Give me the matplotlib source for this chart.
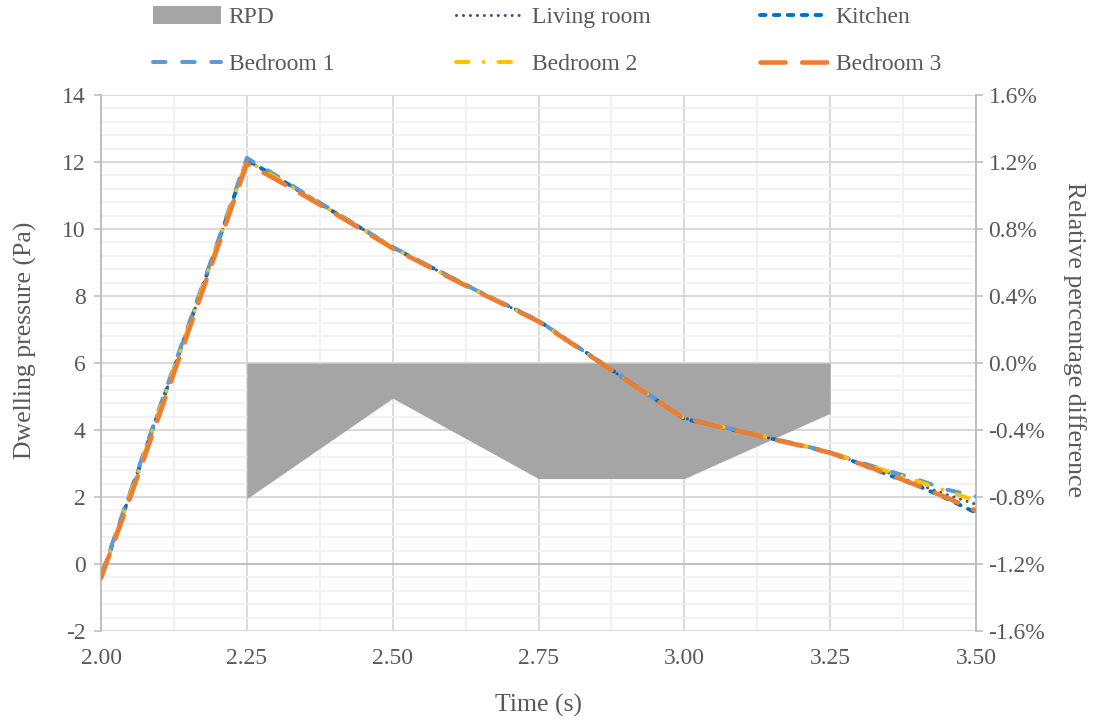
import matplotlib
matplotlib.use("Agg")
import matplotlib.pyplot as plt
from matplotlib.patches import Patch
from matplotlib.ticker import MultipleLocator, FuncFormatter

# ---------------- data ----------------
time_s = [2.00, 2.05, 2.10, 2.15, 2.20, 2.25, 2.30, 2.35, 2.40, 2.45, 2.50,
          2.55, 2.60, 2.65, 2.70, 2.75, 2.80, 2.85, 2.90, 2.95, 3.00,
          3.05, 3.10, 3.15, 3.20, 3.25, 3.30, 3.35, 3.40, 3.45, 3.50]

living_room = [-0.40, 2.09, 4.58, 7.07, 9.56, 12.05, 11.55, 11.02, 10.50, 9.98, 9.45,
               9.00, 8.55, 8.10, 7.68, 7.25, 6.67, 6.09, 5.50, 4.92, 4.35,
               4.15, 3.95, 3.74, 3.54, 3.33, 3.02, 2.72, 2.38, 2.07, 1.78]
kitchen = [-0.40, 2.10, 4.60, 7.08, 9.57, 12.06, 11.56, 11.03, 10.50, 9.98, 9.45,
           9.00, 8.56, 8.11, 7.69, 7.26, 6.68, 6.10, 5.50, 4.92, 4.33,
           4.14, 3.94, 3.74, 3.54, 3.33, 3.00, 2.66, 2.34, 1.95, 1.53]
bedroom_1 = [-0.35, 2.15, 4.65, 7.14, 9.62, 12.12, 11.60, 11.05, 10.52, 9.99, 9.46,
             9.01, 8.56, 8.11, 7.69, 7.26, 6.68, 6.10, 5.51, 4.93, 4.36,
             4.16, 3.96, 3.75, 3.55, 3.34, 3.04, 2.78, 2.52, 2.22, 2.02]
bedroom_2 = [-0.40, 2.08, 4.57, 7.06, 9.55, 12.04, 11.54, 11.01, 10.49, 9.97, 9.44,
             8.99, 8.54, 8.10, 7.68, 7.25, 6.67, 6.09, 5.50, 4.92, 4.35,
             4.15, 3.95, 3.75, 3.55, 3.34, 3.03, 2.76, 2.47, 2.18, 1.89]
bedroom_3 = [-0.42, 1.98, 4.45, 6.95, 9.45, 11.95, 11.48, 10.98, 10.47, 9.95, 9.42,
             8.98, 8.53, 8.09, 7.67, 7.24, 6.66, 6.08, 5.49, 4.91, 4.34,
             4.14, 3.94, 3.73, 3.53, 3.32, 3.00, 2.68, 2.34, 1.98, 1.59]

rpd_time = [2.25, 2.50, 2.75, 3.00, 3.25]
rpd_pct = [-0.81, -0.21, -0.69, -0.69, -0.30]

x_ticks = [2.00, 2.25, 2.50, 2.75, 3.00, 3.25, 3.50]

# ---------------- style ----------------
plt.rcParams['font.family'] = ['Liberation Serif', 'DejaVu Serif']
plt.rcParams['lines.scale_dashes'] = False
plt.rcParams['axes.unicode_minus'] = False
TXT = '#595959'
AXC = '#BFBFBF'
GRID_MAJ = '#D9D9D9'
GRID_MIN = '#F0F0F0'
FS_TICK = 17
FS_LAB = 18.5

fig = plt.figure(figsize=(10.96, 7.22), dpi=100)
ax = fig.add_axes([101 / 1096, 1 - 631 / 722, 875 / 1096, 536 / 722])   # RPD (right)
axp = ax.twinx()                                                        # pressure (left)

ax.yaxis.tick_right()
ax.yaxis.set_label_position('right')
axp.yaxis.tick_left()
axp.yaxis.set_label_position('left')
axp.set_zorder(ax.get_zorder() + 1)
axp.patch.set_visible(False)

# RPD area
ax.fill_between(rpd_time, rpd_pct, 0, color='#A5A5A5', linewidth=0, zorder=2)

# pressure lines
series = [
    ('Living room', living_room, dict(color='#44546A', lw=2.2, dashes=(0.01, 5.0),
                                      dash_capstyle='round')),
    ('Kitchen', kitchen, dict(color='#0070C0', lw=2.8, dashes=(4.0, 6.0),
                              dash_capstyle='round')),
    ('Bedroom 1', bedroom_1, dict(color='#5B9BD5', lw=2.9, dashes=(9.0, 12.0),
                                  dash_capstyle='round')),
    ('Bedroom 2', bedroom_2, dict(color='#FFC000', lw=2.9, dashes=(9.0, 10.8, 0.01, 10.8),
                                  dash_capstyle='round')),
    ('Bedroom 3', bedroom_3, dict(color='#ED7D31', lw=3.3, dashes=(18.0, 12.0),
                                  dash_capstyle='round')),
]
handles = {}
for i, (name, vals, kw) in enumerate(series):
    ln, = axp.plot(time_s, vals, label=name, zorder=3 + i, **kw)
    handles[name] = ln

axp.axhline(0, color=AXC, lw=1.4, zorder=1)

# limits and ticks
ax.set_xlim(2.0, 3.5)
ax.set_ylim(-1.6, 1.6)
axp.set_ylim(-2, 14)
ax.set_xticks(x_ticks)
ax.xaxis.set_major_formatter(FuncFormatter(lambda v, p: f'{v:.2f}'))
ax.xaxis.set_minor_locator(MultipleLocator(0.125))
ax.yaxis.set_major_locator(MultipleLocator(0.4))
ax.yaxis.set_minor_locator(MultipleLocator(0.08))
ax.yaxis.set_major_formatter(FuncFormatter(lambda v, p: f'{v:.1f}%'))
axp.yaxis.set_major_locator(MultipleLocator(2))

ax.set_axisbelow(True)
ax.grid(which='major', color=GRID_MAJ, lw=1.4)
ax.grid(which='minor', color=GRID_MIN, lw=1.2)

for a in (ax, axp):
    for s in a.spines.values():
        s.set_visible(False)
ax.spines['right'].set_visible(True)
ax.spines['right'].set_color(AXC)
ax.spines['right'].set_linewidth(1.4)
axp.spines['left'].set_visible(True)
axp.spines['left'].set_color(AXC)
axp.spines['left'].set_linewidth(1.4)

ax.tick_params(axis='x', which='both', length=0, pad=12, labelsize=FS_TICK, labelcolor=TXT)
ax.tick_params(axis='y', which='major', length=5, width=1.2, color=AXC, pad=4,
               labelsize=FS_TICK, labelcolor=TXT)
ax.tick_params(axis='y', which='minor', length=0)
axp.tick_params(axis='y', which='major', length=5, width=1.2, color=AXC, pad=6,
                labelsize=FS_TICK, labelcolor=TXT)

ax.set_xlabel('Time (s)', fontsize=FS_LAB, color=TXT, labelpad=18)
axp.set_ylabel('Dwelling pressure (Pa)', fontsize=FS_LAB, color=TXT, labelpad=18)
ax.set_ylabel('Relative percentage difference', fontsize=FS_LAB, color=TXT,
              rotation=270, labelpad=30)
axp.yaxis.set_label_coords(-0.073, 0.543)
ax.yaxis.set_label_coords(1.126, 0.543)

# legend: three columns placed like the reference
rpd_handle = Patch(facecolor='#A5A5A5', edgecolor='none', label='RPD')
columns = [
    ([rpd_handle, handles['Bedroom 1']], 153),
    ([handles['Living room'], handles['Bedroom 2']], 456),
    ([handles['Kitchen'], handles['Bedroom 3']], 760),
]
for hs, xpx in columns:
    leg = fig.legend(handles=hs, labels=[h.get_label() for h in hs], ncol=1,
                     loc='upper left', bbox_to_anchor=(xpx / 1096, 1 - 6 / 722),
                     frameon=False, fontsize=FS_TICK, handlelength=2.9, handleheight=0.8,
                     handletextpad=0.3, labelspacing=1.05,
                     borderpad=0, borderaxespad=0)
    for t in leg.get_texts():
        t.set_color(TXT)

fig.savefig('out.png', dpi=100)
